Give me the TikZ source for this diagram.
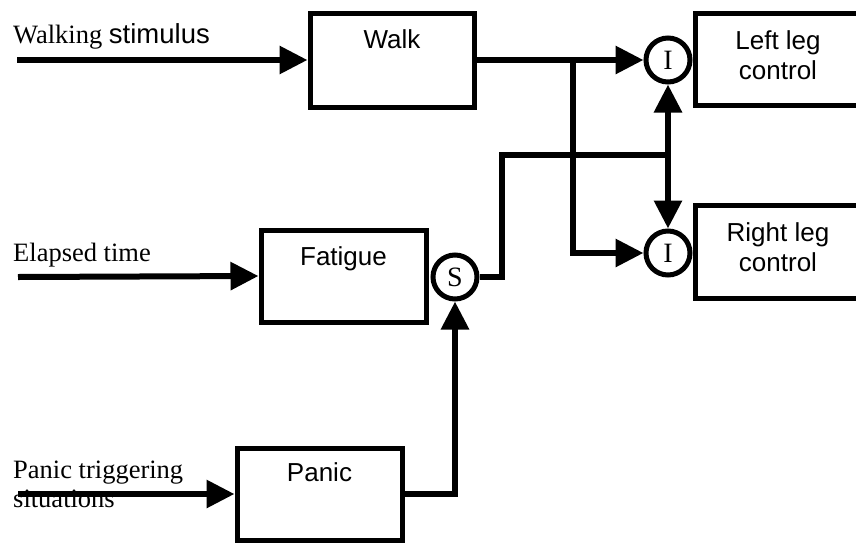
\documentclass[tikz,border=0pt]{standalone}
\usepackage{fontspec}
\setmainfont{Liberation Serif}
\newfontfamily\arialf{Liberation Sans}
\usetikzlibrary{arrows.meta}
\begin{document}
\begin{tikzpicture}[x=1pt,y=-1pt,
  blk/.style={draw, line width=5pt, inner sep=0pt, outer sep=2.5pt, minimum height=93pt},
  junc/.style={draw, circle, line width=5pt, inner sep=0pt, outer sep=2.5pt, minimum size=44pt,
     font=\fontsize{28}{30}\selectfont},
  lbl/.style={inner sep=0pt, anchor=base west, font=\fontsize{26.5}{30}\selectfont},
  btxt/.style={inner sep=0pt, anchor=base, font=\arialf\fontsize{26}{30}\selectfont},
  wire/.style={line width=6pt},
  conn/.style={line width=6pt, -{Triangle[length=28pt,width=27pt]}}
]
\useasboundingbox (0,0) rectangle (856,544);

% input labels
\node[lbl] (twalk) at (13,43) {Walking {\arialf\fontsize{27.5}{30}\selectfont stimulus}};
\node[lbl] (telapsed) at (13,261) {Elapsed time};
\node[lbl] (tpanic1) at (13,478) {Panic triggering};
\node[lbl] (tpanic2) at (13,507) {situations};

% boxes
\node[blk, minimum width=164pt, minimum height=94pt] (walk) at (392,60) {};
\node[blk, minimum width=166pt, minimum height=92pt] (lleg) at (778,59) {};
\node[blk, minimum width=166pt, minimum height=93pt] (rleg) at (778,251.5) {};
\node[blk, minimum width=165pt, minimum height=92pt] (fatigue) at (343.5,276) {};
\node[blk, minimum width=165pt, minimum height=92pt] (panic) at (319.5,494) {};

% box texts
\node[btxt] (twalkb) at (392,48) {Walk};
\node[btxt] (tll1) at (778,49) {Left leg};
\node[btxt] (tll2) at (778,79) {control};
\node[btxt] (trl1) at (778,241) {Right leg};
\node[btxt] (trl2) at (778,271) {control};
\node[btxt] (tfat) at (343.5,265) {Fatigue};
\node[btxt] (tpan) at (319.5,481) {Panic};

% junctions
\node[junc] (i1) at (668,60) {I};
\node[junc] (i2) at (668,253) {I};
\node[junc] (s) at (455,277) {S};

% coordinates
\coordinate (inwalk) at (17,60);
\coordinate (inelapsed) at (18,277);
\coordinate (inpanic) at (18,494);
\coordinate (br) at (573,60);
\coordinate (sb) at (502,155);
\coordinate (sj) at (668,155);

% connectors
\draw[conn] (inwalk) -- (walk.west);
\draw[conn] (inelapsed) -- (fatigue.west);
\draw[conn] (inpanic) -- (panic.west);
\draw[conn] (walk.east) -- (i1.west);
\draw[conn] (br) |- (i2.west);
\draw[wire] (s.east) -| (sb) -- (sj);
\draw[conn] (sj) -- (i1.south);
\draw[conn] (sj) -- (i2.north);
\draw[conn] (panic.east) -| (s.south);
\end{tikzpicture}
\end{document}
